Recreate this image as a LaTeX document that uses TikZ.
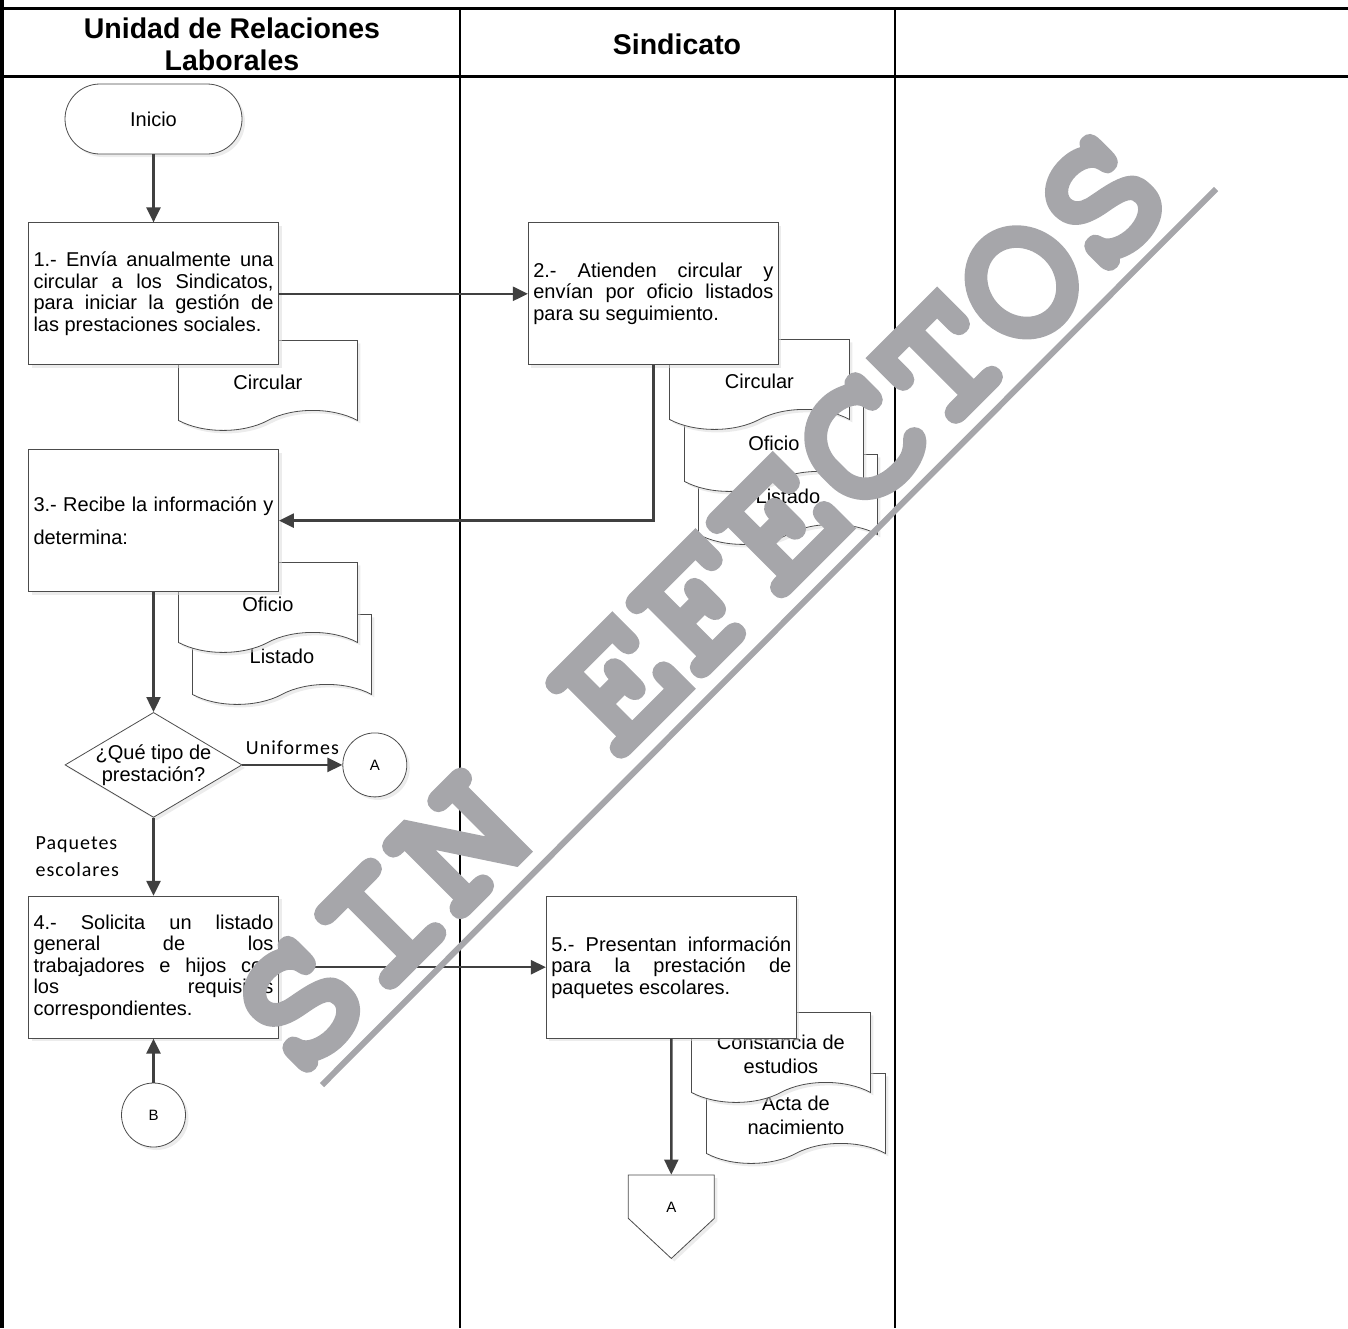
\documentclass[tikz,border=0pt]{standalone}
\usepackage{fontspec}
\setmainfont{Liberation Sans}
\newfontfamily\lblfont{Carlito}[LetterSpace=5.0]
\newfontfamily\wmfont{texgyrecursor-bold.otf}[FakeBold=2]
\usetikzlibrary{positioning,shapes.geometric,shapes.symbols,arrows.meta,shadows}
\definecolor{wmgray}{RGB}{166,166,170}
\hbadness=10000
% text of a document shape sits a little lower than the shape's centre
\newcommand{\doctext}[1]{\raisebox{-9.5pt}[\height][\depth]{\begin{tabular}{@{}c@{}}#1\end{tabular}}}

\begin{document}
\begin{tikzpicture}[x=1pt, y=-1pt,
      lane/.style={line width=2pt, draw=black},
      lanehead/.style={font=\fontsize{28.5}{32}\selectfont\bfseries, align=center},
      % The shapes:
      outline/.style={draw=black!70, line width=0.8pt, fill=white,
        drop shadow={shadow xshift=3pt, shadow yshift=-3pt, fill=black!15}},
      terminal/.style={outline, rectangle, minimum width=177pt, minimum height=70pt,
        rounded corners=35pt, font=\fontsize{20}{22}\selectfont},
      process/.style={outline, rectangle, minimum width=250pt, minimum height=142pt,
        text width=240pt, inner xsep=5pt, align=justify, font=\fontsize{20}{21.5}\selectfont},
      document/.style={outline, tape, tape bend top=none, tape bend height=20pt,
        minimum width=179pt, minimum height=90pt, anchor=north west,
        font=\fontsize{20}{24}\selectfont},
      question/.style={outline, diamond, shape aspect=1.686, inner sep=-5pt,
        minimum width=177pt, minimum height=105pt, align=center,
        font=\fontsize{20}{22}\selectfont},
      connector/.style={outline, circle, minimum size=64pt, inner sep=0pt,
        font=\fontsize{15}{17}\selectfont},
      offpage/.style={outline, signal, signal to=south, signal from=nowhere,
        signal pointer angle=94, minimum width=86pt, minimum height=48pt, inner sep=0pt,
        text height=31pt, text depth=0pt, font=\fontsize{15}{17}\selectfont},
      % The rest
      flow/.style={line width=2.4pt, draw=black!75, -{Triangle[length=15pt, width=14pt]}},
      lbl/.style={font=\lblfont\fontsize{20}{27}\selectfont},
      watermark/.style={font=\wmfont\fontsize{189}{189}\selectfont, text=wmgray, inner sep=0pt,
        execute at begin node={\pgfsetstrokecolor{wmgray}}},
      wmline/.style={line width=6pt, draw=wmgray}]
    \useasboundingbox (0,0) rectangle (1348,1328);
    \draw[lane, line width=4pt] (2,0) -- (2,1328);
    \draw[lane, line width=3pt] (0,8) -- (1348,8);
    \draw[lane, line width=3pt] (0,76) -- (1348,76);
    \draw[lane] (460,8) -- (460,1328);
    \draw[lane] (895,8) -- (895,1328);
    \node(hdr1)[lanehead] at (232,44) {Unidad de Relaciones\\Laborales};
    \node(hdr2)[lanehead] at (677,44) {Sindicato};

    % documents go under the boxes
    \node(lis2)[document] at (698,454) {\doctext{Listado}};
    \node(ofi2)[document] at (684,401) {\doctext{Oficio}};
    \node(cir2)[document, minimum width=180pt] at (669,339) {\doctext{Circular}};
    \node(cir1)[document] at (178,340) {\doctext{Circular}};
    \node(lis3)[document] at (192,614) {\doctext{Listado}};
    \node(ofi3)[document] at (178,562) {\doctext{Oficio}};
    \node(act5)[document] at (706,1073) {\doctext{Acta de\\nacimiento}};
    \node(con5)[document] at (691,1012) {\doctext{Constancia de\\estudios}};

    \node(ini)[terminal] at (153.5,119) {Inicio};
    \node(s1)[process, below=68pt, at=(ini.south)]{1.- Envía anualmente una\linebreak circular a los Sindicatos,\linebreak para iniciar la gestión de\linebreak las prestaciones sociales.};
    \path (ini) edge[flow] (s1);
    \node(s2)[process, right=249pt, at=(s1.east)]{2.- Atienden circular y\linebreak envían por oficio listados\linebreak para su seguimiento.};
    \path (s1) edge[flow] (s2);
    \node(s3)[process, below=84pt, at=(s1.south), font=\fontsize{20}{33}\selectfont]{3.- Recibe la información y\linebreak determina:};
    \draw[flow] (s2.south) |- (s3.east);
    \node(dec)[question, below=120pt, at=(s3.south)]{¿Qué tipo de\\prestación?};
    \path (s3) edge[flow] (dec);
    \node(conA)[connector, right=100pt, at=(dec.east)]{A};
    \path (dec) edge[flow] node[lbl, above=6pt]{Uniformes} (conA);
    \node(s4)[process, below=78pt, at=(dec.south)]{4.- Solicita un listado\linebreak general de los\linebreak trabajadores e hijos con\linebreak los requisitos\linebreak correspondientes.};
    \path (dec) edge[flow] node[lbl, left=30pt, align=left]{Paquetes\\escolares} (s4);
    \node(conB)[connector, below=44pt, at=(s4.south)]{B};
    \path (conB) edge[flow] (s4);
    \node(s5)[process, right=267pt, at=(s4.east)]{5.- Presentan información\linebreak para la prestación de\linebreak paquetes escolares.};
    \path (s4) edge[flow] (s5);
    \node(offA)[offpage, below=136pt, at=(s5.south)]{A};
    \path (s5) edge[flow] (offA);

    \node(wm)[watermark, rotate=45, anchor=base] at (740,642) {SIN EFECTOS};
    \draw[wmline] (322,1085) -- (1216,189);
  \end{tikzpicture}
\end{document}
